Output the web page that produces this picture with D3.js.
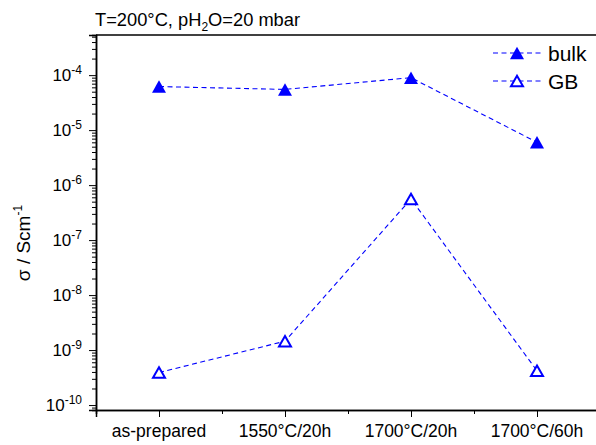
<!DOCTYPE html>
<html>
<head>
<meta charset="utf-8">
<script src="https://cdn.jsdelivr.net/npm/d3@7"></script>
<style>
  html, body { margin: 0; padding: 0; background: #fff; }
  svg { display: block; font-family: "Liberation Sans", Arial, sans-serif; }
</style>
</head>
<body>
<svg id="chart" width="596" height="445"></svg>
<script>
// Conductivity after each heat treatment (S/cm)
const categories = ["as-prepared", "1550°C/20h", "1700°C/20h", "1700°C/60h"];
const bulkValues = [6.2e-5, 5.5e-5, 9.0e-5, 6.0e-6];
const gbValues   = [3.9e-10, 1.45e-9, 5.6e-7, 4.2e-10];
const yTickExponents = [-10, -9, -8, -7, -6, -5, -4];

const svg = d3.select("#chart");
const margin = { left: 96, top: 35, right: 600, bottom: 410 };
const blue = "#0000ff";

// x: categories at integer positions 1..4, frame spans 0.5..4.5
const x = d3.scaleLinear().domain([0.5, 4.5]).range([margin.left, margin.right]);
const y = d3.scaleLog().domain([Math.pow(10, -10.09), Math.pow(10, -3.27)])
  .range([margin.bottom, margin.top]);

// frame
const g = svg.append("g");
g.append("line").attr("x1", margin.left).attr("x2", margin.right)
  .attr("y1", margin.top).attr("y2", margin.top)
  .attr("stroke", "#000").attr("stroke-width", 1.5);

// y axis: decades with minor ticks 2..9
const minorY = [];
for (let e = -11; e <= -3; e++) {
  for (let m = 2; m <= 9; m++) {
    const v = m * Math.pow(10, e);
    if (v >= y.domain()[0] && v <= y.domain()[1]) minorY.push(v);
  }
}
const yAxisG = g.append("g").attr("transform", `translate(${margin.left},0)`);
yAxisG.call(d3.axisLeft(y).tickValues(minorY).tickSize(4).tickFormat(""));
yAxisG.call(g2 => g2.append("g").call(
  d3.axisLeft(y).tickValues(yTickExponents.map(e => Math.pow(10, e))).tickSize(7).tickFormat("")));
yAxisG.selectAll("path.domain").attr("stroke", "#000").attr("stroke-width", 1.5);
yAxisG.selectAll(".tick line").attr("stroke", "#000").attr("stroke-width", 1);

// y tick labels as 10^n
yTickExponents.forEach(e => {
  const t = g.append("text")
    .attr("x", 82).attr("y", y(Math.pow(10, e)) + 6)
    .attr("text-anchor", "end").attr("font-size", 17).attr("fill", "#000");
  t.append("tspan").text("10");
  t.append("tspan").attr("dy", -7.5).attr("font-size", 12).text(String(e));
});

// x axis
const xAxisG = g.append("g").attr("transform", `translate(0,${margin.bottom})`);
xAxisG.call(d3.axisBottom(x).tickValues([0.5, 1.5, 2.5, 3.5, 4.5]).tickSize(4).tickFormat(""));
xAxisG.append("g").call(d3.axisBottom(x).tickValues([1, 2, 3, 4]).tickSize(7).tickFormat(""));
xAxisG.selectAll("path.domain").attr("stroke", "#000").attr("stroke-width", 1.5);
xAxisG.selectAll(".tick line").attr("stroke", "#000").attr("stroke-width", 1);

categories.forEach((c, i) => {
  g.append("text").attr("x", x(i + 1)).attr("y", 437)
    .attr("text-anchor", "middle").attr("font-size", 17.5).attr("fill", "#000").text(c);
});

// axis title
const yt = g.append("text")
  .attr("transform", "translate(30,243) rotate(-90)")
  .attr("text-anchor", "middle").attr("font-size", 19).attr("fill", "#000");
yt.append("tspan").text("σ / Scm");
yt.append("tspan").attr("dy", -8).attr("font-size", 12).text("-1");

// header
const title = g.append("text").attr("x", 95).attr("y", 26)
  .attr("font-size", 18.3).attr("fill", "#000");
title.append("tspan").text("T=200°C, pH");
title.append("tspan").attr("dy", 5).attr("font-size", 12).text("2");
title.append("tspan").attr("dy", -5).text("O=20 mbar");

// series
function triangle(cx, cy, w, h) {
  return `M${cx},${cy - h / 2}L${cx + w / 2},${cy + h / 2}L${cx - w / 2},${cy + h / 2}Z`;
}
const line = d3.line().x((d, i) => x(i + 1)).y(d => y(d));
const series = [
  { name: "bulk", values: bulkValues, filled: true },
  { name: "GB", values: gbValues, filled: false }
];
series.forEach(s => {
  g.append("path").attr("d", line(s.values))
    .attr("fill", "none").attr("stroke", blue).attr("stroke-width", 1.1)
    .attr("stroke-dasharray", "5,3.5");
  g.selectAll(null).data(s.values).enter().append("path")
    .attr("d", (d, i) => s.filled
      ? triangle(x(i + 1), y(d), 14, 12.5)
      : triangle(x(i + 1), y(d), 12, 10.5))
    .attr("fill", s.filled ? blue : "#fff")
    .attr("stroke", s.filled ? "none" : blue)
    .attr("stroke-width", s.filled ? 0 : 2);
});

// legend
series.forEach((s, i) => {
  const ly = 53 + i * 28;
  g.append("line").attr("x1", 493).attr("x2", 543).attr("y1", ly).attr("y2", ly)
    .attr("stroke", blue).attr("stroke-width", 1.1).attr("stroke-dasharray", "5,3.5");
  g.append("path").attr("d", s.filled ? triangle(517, ly, 14, 12.5) : triangle(517, ly, 12, 10.5))
    .attr("fill", s.filled ? blue : "#fff")
    .attr("stroke", s.filled ? "none" : blue)
    .attr("stroke-width", s.filled ? 0 : 2);
  g.append("text").attr("x", 548).attr("y", ly + 8)
    .attr("font-size", 21).attr("fill", "#000").text(s.name);
});
</script>
</body>
</html>
